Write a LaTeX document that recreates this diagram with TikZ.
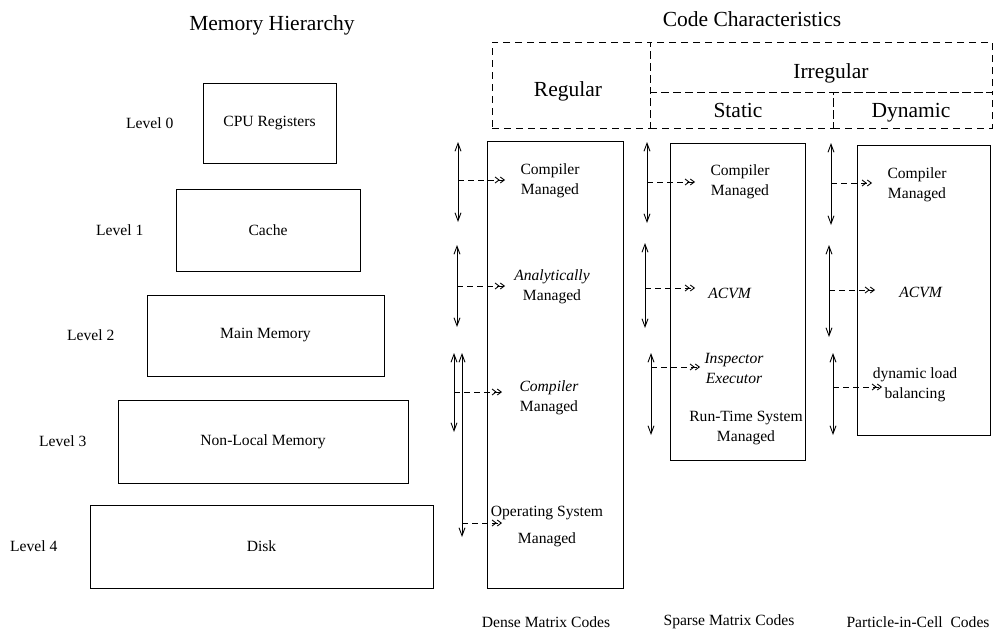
\documentclass[tikz,border=0pt]{standalone}
\usepackage{fontspec}
\setmainfont{Liberation Serif}
\usetikzlibrary{arrows.meta}
\tikzset{
  membox/.style={draw, line width=0.9pt, inner sep=0pt},
  codebox/.style={draw, line width=0.9pt, inner sep=0pt},
  hdrbox/.style={draw, line width=0.9pt, dash pattern=on 7pt off 5pt, inner sep=0pt},
  small/.style={font=\fontsize{15.6}{20}\selectfont, align=center, inner sep=0pt},
  big/.style={font=\fontsize{21.5}{26}\selectfont, inner sep=0pt},
  vline/.style={line width=0.9pt, {Straight Barb[length=8pt,width=6pt]}-{Straight Barb[length=8pt,width=6pt]}},
  dline/.style={line width=0.9pt, dash pattern=on 6pt off 4pt, -{Straight Barb[length=4pt,width=6pt]Straight Barb[length=4pt,width=6pt]}}
}
\begin{document}
\begin{tikzpicture}[x=1pt,y=-1pt]
\useasboundingbox (0,0) rectangle (997,637);
% titles
\node[big] (mh) at (272,25) {Memory Hierarchy};
\node[big] (cc) at (752,19) {Code Characteristics};
% memory hierarchy boxes
\node[membox, minimum width=133pt, minimum height=80pt, small] (cpu) at (269.5,123) {CPU Registers};
\node[membox, minimum width=184pt, minimum height=82pt, small] (cache) at (268,230) {Cache};
\node[membox, minimum width=237pt, minimum height=81pt, small] (mainm) at (265.5,335.5) {Main Memory};
\node[membox, minimum width=290pt, minimum height=83pt, small] (nonloc) at (263,441.5) {Non-Local Memory};
\node[membox, minimum width=343pt, minimum height=83pt, small] (disk) at (261.5,546.5) {Disk};
\node[small, anchor=east] (l0) at ([xshift=-29pt]cpu.west) {Level 0};
\node[small, anchor=east] (l1) at ([xshift=-32pt]cache.west) {Level 1};
\node[small, anchor=east] (l2) at ([xshift=-32pt]mainm.west) {Level 2};
\node[small, anchor=east] (l3) at ([xshift=-31pt]nonloc.west) {Level 3};
\node[small, anchor=east] (l4) at ([xshift=-32pt]disk.west) {Level 4};
% header dashed boxes
\node[hdrbox, minimum width=158pt, minimum height=86pt] (regbox) at (571,85) {};
\node[hdrbox, minimum width=342pt, minimum height=50pt] (irrbox) at (821,67) {};
\node[hdrbox, minimum width=183pt, minimum height=36pt] (stabox) at (741.5,110) {};
\node[hdrbox, minimum width=159pt, minimum height=36pt] (dynbox) at (912.5,110) {};
\node[big] (regt) at (568,91) {Regular};
\node[big] (irrt) at (831,73) {Irregular};
\node[big] (stat) at (738,110) {Static};
\node[big] (dynt) at (911,113) {Dynamic};
% code boxes
\node[codebox, minimum width=136pt, minimum height=447pt] (dense) at (555,364.5) {};
\node[codebox, minimum width=135pt, minimum height=317pt] (sparse) at (737.5,301.5) {};
\node[codebox, minimum width=133pt, minimum height=290pt] (dynb) at (923.5,290) {};
% texts in dense
\node[small] (d1) at (550,181) {Compiler\\Managed};
\node[small] (d2) at (552,287) {\textit{Analytically}\\Managed};
\node[small] (d3) at (549,398) {\textit{Compiler}\\Managed};
\node[small, align=center, font=\fontsize{15.6}{27}\selectfont] (d4) at (547,527) {Operating System\\Managed};
% texts in sparse
\node[small] (s1) at (740,182) {Compiler\\Managed};
\node[small] (s2) at (730,293) {\textit{ACVM}};
\node[small] (s3) at (734,368) {\textit{Inspector}\\\textit{Executor}};
\node[small] (s4) at (746,428) {Run-Time System\\Managed};
% texts in dynamic
\node[small] (y1) at (917,185) {Compiler\\Managed};
\node[small] (y2) at (921,292) {\textit{ACVM}};
\node[small] (y3) at (915,385) {dynamic load\\balancing};
% bottom labels
\node[small] (dl) at (546,622) {Dense Matrix Codes};
\node[small] (sl) at (729,622) {Sparse Matrix Codes};
\node[small] (pl) at (918,622) {Particle-in-Cell~ Codes};
% arrow coordinates: dense
\coordinate (a1t) at (458,142); \coordinate (a1b) at (458,222); \coordinate (a1m) at (458,180); \coordinate (a1e) at (505,180);
\coordinate (a2t) at (457,245); \coordinate (a2b) at (457,327); \coordinate (a2m) at (457,286); \coordinate (a2e) at (505,286);
\coordinate (a3t) at (454,353); \coordinate (a3b) at (454,432); \coordinate (a3m) at (454,392); \coordinate (a3e) at (502,392);
\coordinate (a4t) at (462,353); \coordinate (a4b) at (462,537); \coordinate (a4m) at (462,523); \coordinate (a4e) at (502,523);
% sparse
\coordinate (b1t) at (647,142); \coordinate (b1b) at (647,223); \coordinate (b1m) at (647,182); \coordinate (b1e) at (695,182);
\coordinate (b2t) at (645,243); \coordinate (b2b) at (645,328); \coordinate (b2m) at (645,288); \coordinate (b2e) at (695,288);
\coordinate (b3t) at (651,353); \coordinate (b3b) at (651,435); \coordinate (b3m) at (651,367); \coordinate (b3e) at (700,367);
% dynamic
\coordinate (c1t) at (831,143); \coordinate (c1b) at (831,225); \coordinate (c1m) at (831,183); \coordinate (c1e) at (872,183);
\coordinate (c2t) at (829,245); \coordinate (c2b) at (829,337); \coordinate (c2m) at (829,290); \coordinate (c2e) at (875,290);
\coordinate (c3t) at (833,353); \coordinate (c3b) at (833,435); \coordinate (c3m) at (833,387); \coordinate (c3e) at (882,387);
\foreach \n in {a1,a2,a3,a4,b1,b2,b3,c1,c2,c3}{
  \draw[vline] (\n t) -- (\n b);
  \draw[dline] (\n m) -- (\n e);
}
\end{tikzpicture}
\end{document}
